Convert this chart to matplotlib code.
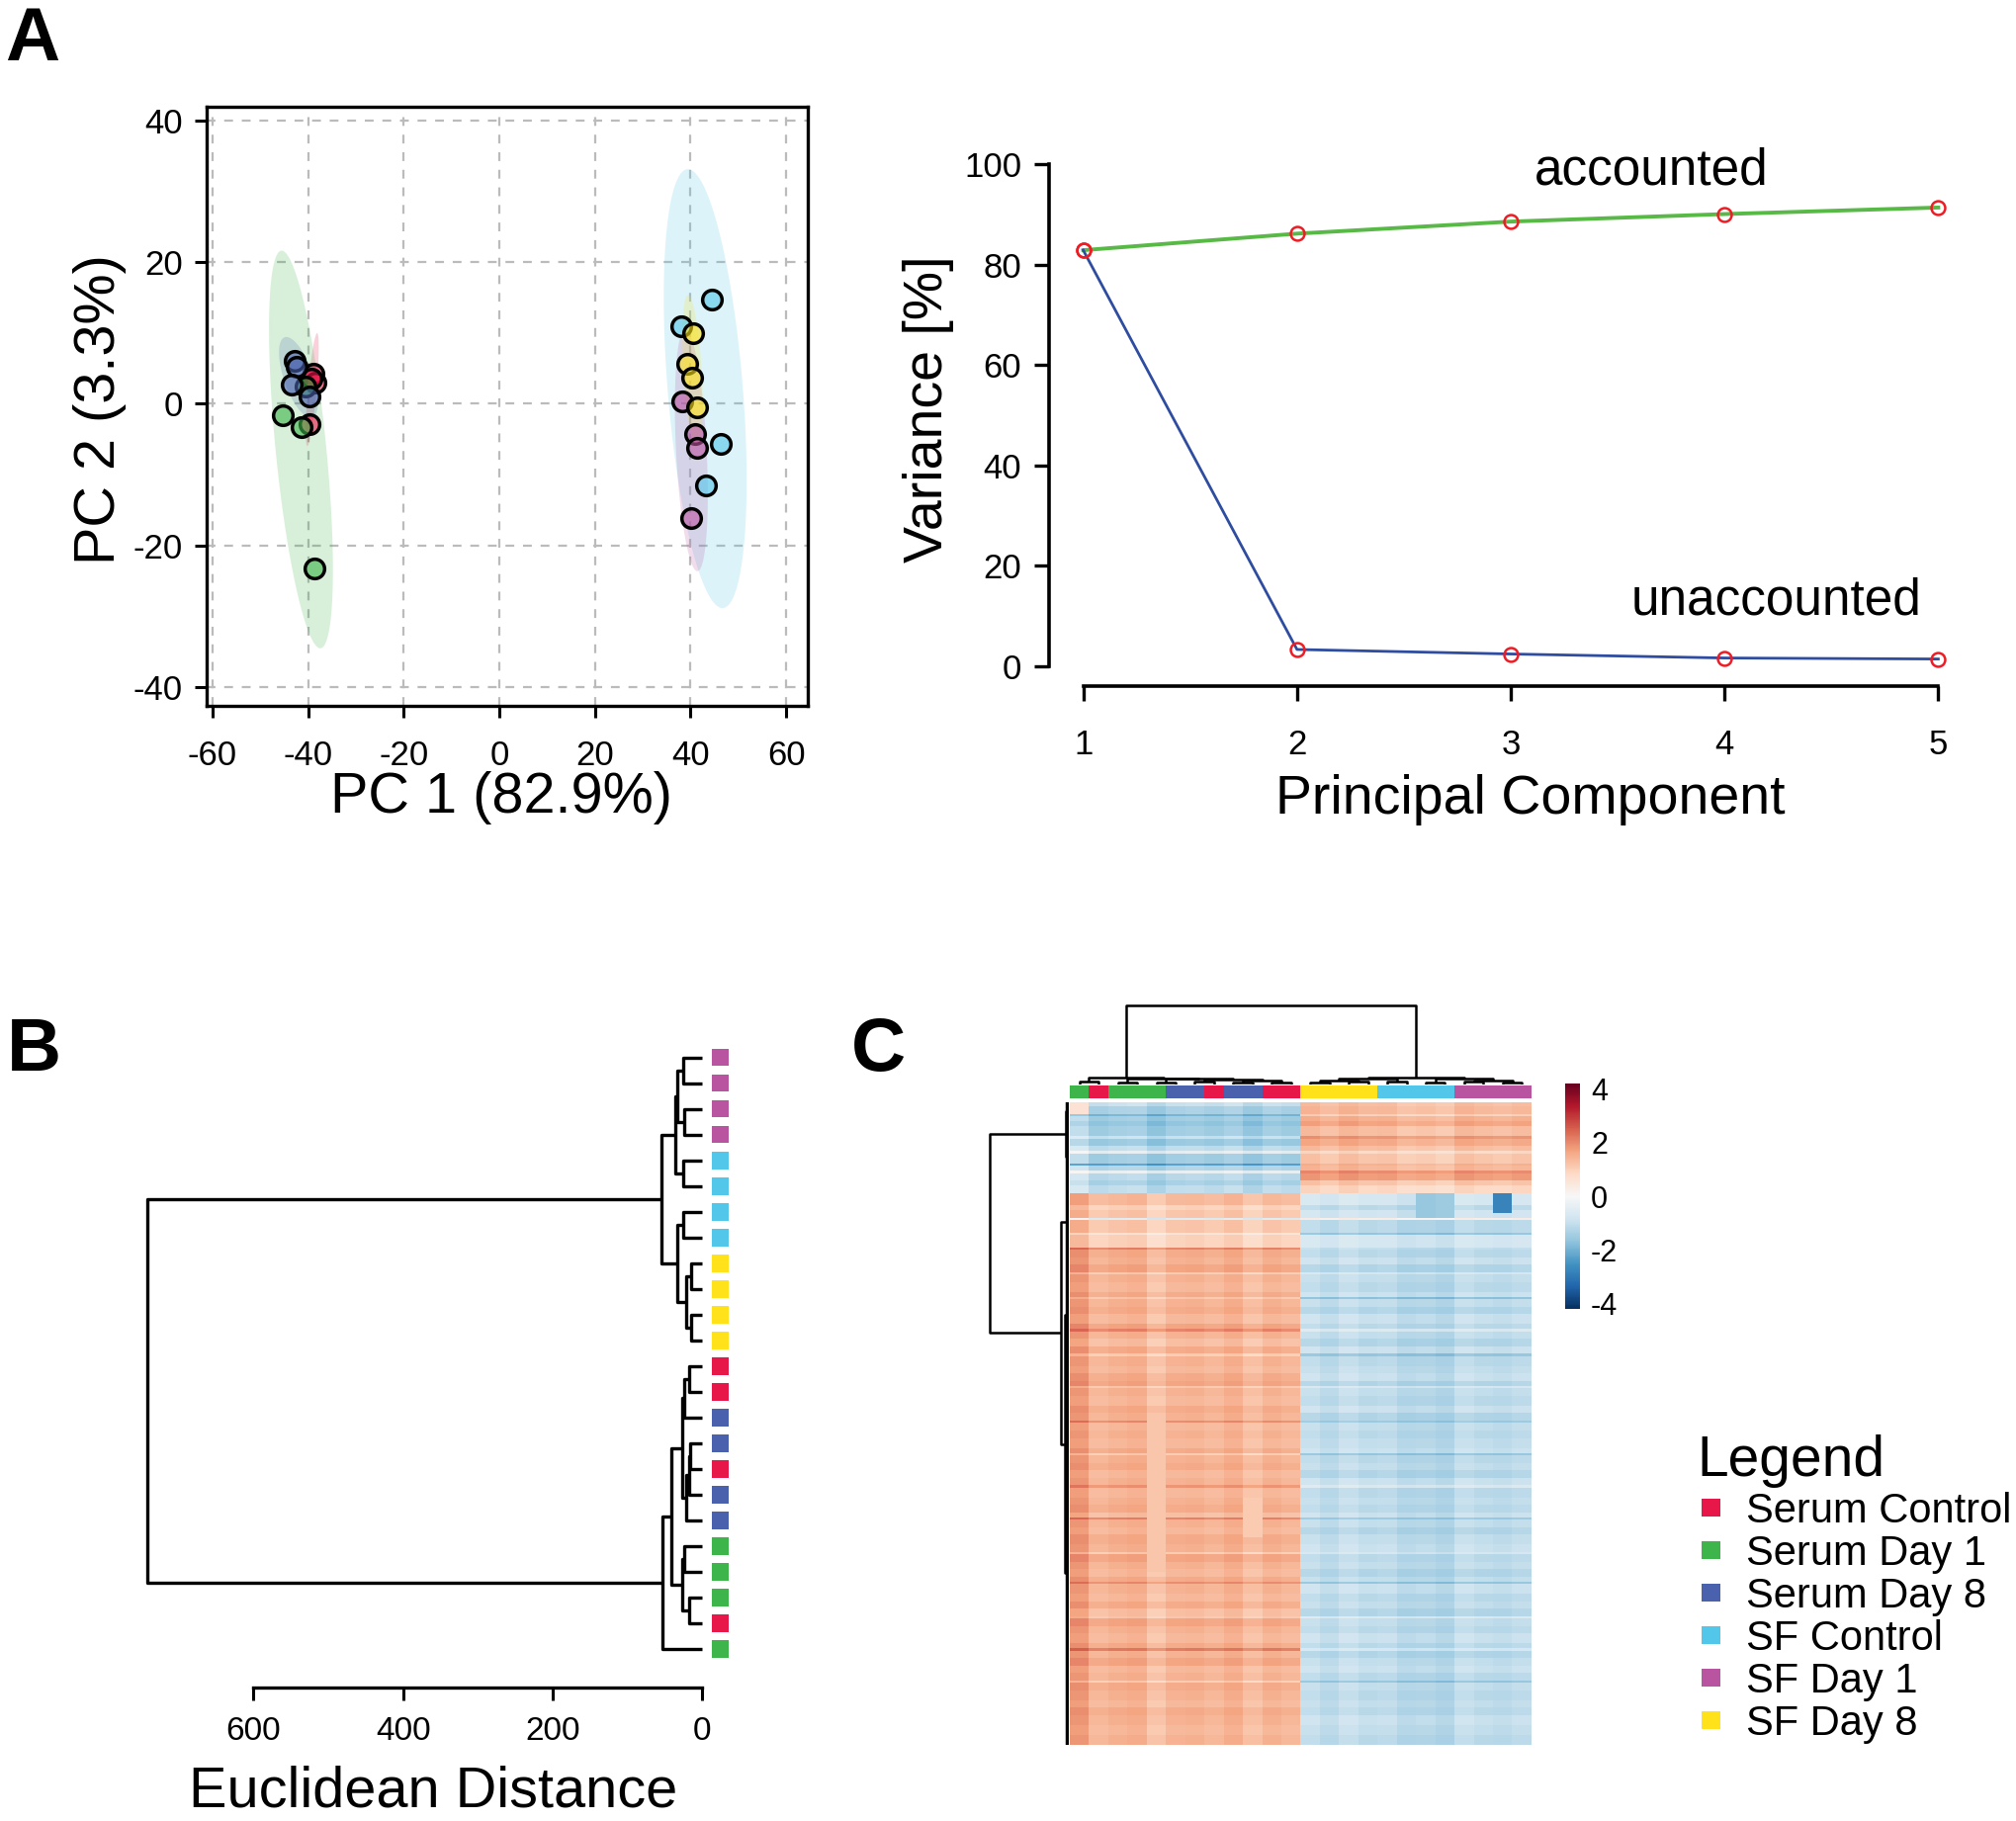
import numpy as np
import matplotlib
matplotlib.use('Agg')
import matplotlib.pyplot as plt
from matplotlib.colors import ListedColormap, to_rgba

plt.rcParams['font.family'] = ['Liberation Sans', 'DejaVu Sans']
plt.rcParams['axes.unicode_minus'] = False

W, H = 2040, 1842
DPI = 100
fig = plt.figure(figsize=(W / DPI, H / DPI), dpi=DPI)


def rect(x0, y0, x1, y1):
    return [x0 / W, 1 - y1 / H, (x1 - x0) / W, (y1 - y0) / H]


# ---------------- data ----------------
groups = ['Serum Control', 'Serum Day 1', 'Serum Day 8', 'SF Control', 'SF Day 1', 'SF Day 8']
group_colors = ['#E8174A', '#3DB54A', '#4A62AE', '#52C7EA', '#B954A0', '#FFE21A']

# PCA scores
pca_group = (['Serum Control'] * 4 + ['Serum Day 1'] * 4 + ['Serum Day 8'] * 4 +
             ['SF Control'] * 4 + ['SF Day 1'] * 4 + ['SF Day 8'] * 4)
pca_pc1 = [-38.9, -38.5, -39.8, -39.3,
           -45.2, -41.4, -38.7, -40.6,
           -42.7, -42.3, -43.4, -39.6,
           44.4, 38.1, 46.4, 43.3,
           38.2, 40.9, 41.4, 40.1,
           40.6, 39.3, 40.3, 41.4]
pca_pc2 = [4.3, 3.0, -2.8, 3.6,
           -1.6, -3.3, -23.3, 2.4,
           6.1, 5.2, 2.7, 1.0,
           14.7, 11.0, -5.6, -11.5,
           0.35, -4.2, -6.2, -16.2,
           10.0, 5.6, 3.7, -0.5]

# Scree
pc_index = [1, 2, 3, 4, 5]
var_accounted = [82.9, 86.2, 88.6, 90.1, 91.4]
var_unaccounted = [82.9, 3.3, 2.4, 1.6, 1.4]

# Sample dendrogram (panel B), leaves top -> bottom
dend_leaf_groups = (['SF Day 1'] * 4 + ['SF Control'] * 4 + ['SF Day 8'] * 4 +
                    ['Serum Control', 'Serum Control', 'Serum Day 8', 'Serum Day 8',
                     'Serum Control', 'Serum Day 8', 'Serum Day 8', 'Serum Day 1',
                     'Serum Day 1', 'Serum Day 1', 'Serum Control', 'Serum Day 1'])
dend_left = [0, 2, 24, 4, 26, 6, 8, 10, 30, 29, 28, 12, 35, 15, 37, 38, 36, 19, 21, 41, 40, 44, 34]
dend_right = [1, 3, 25, 5, 27, 7, 9, 11, 31, 32, 33, 13, 14, 16, 17, 18, 39, 20, 22, 42, 43, 23, 45]
dend_height = [25, 24, 33, 25, 36, 25, 15.5, 15.5, 21, 33, 54.4, 17, 24, 16, 18, 21, 26.6,
               24, 17, 26.6, 41.6, 52.7, 742]

# Heatmap (panel C)
hm_col_groups = ['Serum Day 1', 'Serum Control', 'Serum Day 1', 'Serum Day 1', 'Serum Day 1',
                 'Serum Day 8', 'Serum Day 8', 'Serum Control', 'Serum Day 8', 'Serum Day 8',
                 'Serum Control', 'Serum Control',
                 'SF Day 8', 'SF Day 8', 'SF Day 8', 'SF Day 8',
                 'SF Control', 'SF Control', 'SF Control', 'SF Control',
                 'SF Day 1', 'SF Day 1', 'SF Day 1', 'SF Day 1']
hm_band_rows = [2, 3, 1, 2, 2, 4, 1, 3, 2, 1, 4, 1, 2, 1, 3, 2, 3,
                5, 2, 3, 1, 5, 1, 5,
                1, 3, 3, 3, 1, 3, 4, 2, 1, 3,
                3, 4, 2, 1, 3, 3, 3, 1, 4, 3,
                3, 2, 1, 3, 4, 3, 3, 1, 3, 3,
                4, 2, 1, 3, 3, 3, 3, 1, 4, 3,
                3, 2, 1, 3, 3, 4, 3, 1, 3, 3,
                3, 2, 1, 4, 3, 3, 3, 1, 3, 3,
                4, 2, 1, 3, 3, 3, 3, 1, 3, 4,
                3, 3, 4, 4, 4]
hm_band_serum = [-1.0, -1.4, -2.0, -1.5, -1.7, -1.5, -1.0, -1.6, -1.1, -0.5, -1.5, -2.3, -1.3,
                 -0.4, -1.2, -1.4, -1.1,
                 1.3, 0.9, 1.1, -0.6, 1.1, 0.5, 0.9,
                 2.0, 1.5, 1.4, 1.6, 1.0, 1.4, 1.3, 1.5, 1.1, 1.4,
                 1.5, 1.3, 1.6, 2.0, 1.4, 1.2, 1.5, 1.0, 1.4, 1.3,
                 1.5, 1.6, 1.1, 1.4, 1.3, 1.5, 1.4, 1.9, 1.3, 1.4,
                 1.3, 1.5, 1.0, 1.4, 1.5, 1.3, 1.4, 1.8, 1.3, 1.4,
                 1.5, 1.2, 2.0, 1.4, 1.3, 1.5, 1.4, 1.0, 1.6, 1.4,
                 1.3, 1.5, 1.9, 1.4, 1.3, 1.5, 1.2, 1.1, 1.6, 1.4,
                 1.3, 1.5, 2.1, 1.4, 1.6, 1.3, 1.4, 1.0, 1.5, 1.4,
                 1.3, 1.5, 1.4, 1.3, 1.4]
hm_band_sf = [1.3, 1.4, 1.0, 1.5, 1.7, 1.3, 1.9, 1.6, 1.3, 0.9, 1.2, 1.5, 1.4, 2.0, 1.8, 1.2, 0.9,
              -0.7, -1.1, -0.8, 0.3, -1.1, -1.6, -0.7,
              -1.0, -1.1, -0.9, -1.2, -0.7, -1.0, -1.1, -0.9, -1.7, -1.0,
              -1.2, -0.9, -1.1, -0.6, -1.0, -1.2, -0.9, -1.6, -1.1, -1.0,
              -0.9, -1.2, -0.7, -1.0, -1.1, -0.9, -1.2, -1.5, -1.0, -1.1,
              -1.0, -0.9, -1.6, -1.1, -1.0, -1.2, -0.9, -0.6, -1.1, -1.0,
              -1.1, -0.9, -1.5, -1.0, -1.2, -1.0, -0.9, -0.7, -1.1, -1.0,
              -1.2, -1.0, -1.6, -0.9, -1.1, -1.0, -1.2, -0.6, -1.0, -1.1,
              -0.9, -1.1, -0.7, -1.2, -1.0, -0.9, -1.1, -1.6, -1.0, -1.1,
              -1.0, -1.1, -0.9, -1.0, -1.1]
hm_col_offset = [0.45, 0.0, 0.1, 0.15, -0.2, 0.05, 0.1, 0.0, 0.15, -0.15, 0.1, 0.0,
                 0.05, -0.1, 0.1, -0.05, 0.0, -0.2, -0.15, -0.25, 0.05, -0.05, -0.1, 0.0]
hm_patch_row0 = [37, 37, 37, 126, 160, 25, 0]
hm_patch_row1 = [45, 47, 47, 190, 176, 26, 5]
hm_patch_col = [22, 18, 19, 4, 9, 0, 0]
hm_patch_val = [-2.8, -1.6, -1.5, 1.15, 1.1, -2.2, 0.6]

# column dendrogram of heatmap
col_left = [0, 2, 4, 6, 8, 10, 28, 27, 26, 25, 24, 12, 14, 35, 16, 37, 18, 20, 22, 41, 40, 39, 34]
col_right = [1, 3, 5, 7, 9, 11, 29, 30, 31, 32, 33, 13, 15, 36, 17, 38, 19, 21, 23, 42, 43, 44, 45]
col_height = [3, 2.5, 2.5, 3, 2, 2.5, 4, 5, 6, 6.5, 7.5, 2.5, 3, 4.5, 3, 6, 2.5, 3, 2.5, 4.5, 6,
              7.5, 80]

# row dendrogram of heatmap (row blocks as leaves)
row_block_start = [0, 7, 37, 60, 112, 195]
row_block_end = [6, 36, 59, 111, 194, 259]
row_block_height = [1.5, 1.5, 1.5, 1.5, 1.5, 1.5]
row_left = [0, 4, 3, 2, 6]
row_right = [1, 5, 7, 8, 9]
row_height = [3, 2.5, 4.5, 8, 80]

gcol = dict(zip(groups, group_colors))


def dendro_segments(leaf_pos, leaf_h, left, right, heights):
    pos = list(leaf_pos)
    hh = list(leaf_h)
    segs = []
    for a, b, h in zip(left, right, heights):
        segs.append(([hh[a], h, h, hh[b]], [pos[a], pos[a], pos[b], pos[b]]))
        pos.append((pos[a] + pos[b]) / 2.0)
        hh.append(h)
    return segs


# ---------------- Panel A: PCA scatter ----------------
ax = fig.add_axes(rect(209, 108, 817, 714))
pc1 = np.array(pca_pc1)
pc2 = np.array(pca_pc2)
grp = np.array(pca_group)
t = np.linspace(0, 2 * np.pi, 200)
for g in groups:
    m = grp == g
    pts = np.column_stack([pc1[m], pc2[m]])
    mu = pts.mean(axis=0)
    cov = np.cov(pts.T)
    L = np.linalg.cholesky(cov)
    circ = np.vstack([np.cos(t), np.sin(t)]) * np.sqrt(5.991)
    ell = (L @ circ).T + mu
    ax.fill(ell[:, 0], ell[:, 1], color=gcol[g], alpha=0.2, lw=0, zorder=1)
for g in groups:
    m = grp == g
    ax.scatter(pc1[m], pc2[m], s=200, facecolors=[to_rgba(gcol[g], 0.6)],
               edgecolors='black', linewidths=2.5, zorder=3)
ax.set_xlim(-61.2, 64.5)
ax.set_ylim(-42.7, 42.0)
ax.set_xticks(range(-60, 61, 20))
ax.set_yticks(range(-40, 41, 20))
ax.grid(True, color='#BBBBBB', ls=(0, (4, 4)), lw=1.6)
ax.set_axisbelow(True)
for s in ax.spines.values():
    s.set_linewidth(2.4)
ax.tick_params(direction='out', length=8.6, width=2.2, labelsize=25)
ax.tick_params(axis='x', pad=16)
ax.tick_params(axis='y', pad=9)

# ---------------- Panel A: scree ----------------
ax2 = fig.add_axes(rect(1061, 146, 1995, 694))
ax2.plot(pc_index, var_accounted, color='#58B947', lw=2.8, zorder=2)
ax2.plot(pc_index, var_unaccounted, color='#2E4CA0', lw=2.0, zorder=2)
ax2.plot(pc_index, var_accounted, 'o', ms=10, mfc='none', mec='#EE1C24', mew=1.8, zorder=3)
ax2.plot(pc_index, var_unaccounted, 'o', ms=10, mfc='none', mec='#EE1C24', mew=1.8, zorder=3)
ax2.set_xlim(0.84, 5.16)
ax2.set_ylim(-4, 104)
ax2.set_xticks(pc_index)
ax2.set_yticks(range(0, 101, 20))
ax2.spines['top'].set_visible(False)
ax2.spines['right'].set_visible(False)
ax2.spines['left'].set_bounds(0, 100)
ax2.spines['bottom'].set_bounds(1, 5)
for s in ('left', 'bottom'):
    ax2.spines[s].set_linewidth(2.6)
ax2.tick_params(direction='out', length=11, width=2.4, labelsize=25)
ax2.tick_params(axis='x', pad=20)
ax2.tick_params(axis='y', pad=9)
ax2.text(3.66, 98.7, 'accounted', fontsize=37, ha='center', va='center')
ax2.text(4.24, 13.0, 'unaccounted', fontsize=37, ha='center', va='center')

# ---------------- Panel B: sample dendrogram ----------------
axb = fig.add_axes(rect(135.2, 1051.3, 740.6, 1686.2))
nl = len(dend_leaf_groups)
for xs, ys in dendro_segments(list(range(nl)), [0] * nl, dend_left, dend_right, dend_height):
    axb.plot(xs, ys, color='black', lw=2.4, solid_capstyle='butt')
axb.scatter([-24] * nl, list(range(nl)), marker='s', s=165,
            c=[gcol[g] for g in dend_leaf_groups], linewidths=0, zorder=3)
axb.set_xlim(760, -40)
axb.set_ylim(nl - 0.3, -0.7)
for s in ('top', 'right', 'left'):
    axb.spines[s].set_visible(False)
axb.spines['bottom'].set_position(('outward', 15))
axb.spines['bottom'].set_bounds(0, 600)
axb.spines['bottom'].set_linewidth(2.4)
axb.set_yticks([])
axb.set_xticks([600, 400, 200, 0])
axb.tick_params(axis='x', direction='out', length=9, width=2.2, labelsize=24, pad=12)

# ---------------- Panel C: heatmap ----------------
nrows = int(np.sum(hm_band_rows))
ncols = len(hm_col_groups)
mat = np.zeros((nrows, ncols))
r = 0
for h, vs, vf in zip(hm_band_rows, hm_band_serum, hm_band_sf):
    mat[r:r + h, :12] = vs
    mat[r:r + h, 12:] = vf
    r += h
mat = mat + np.array(hm_col_offset)[None, :]
for r0, r1, c, v in zip(hm_patch_row0, hm_patch_row1, hm_patch_col, hm_patch_val):
    mat[r0:r1, c] = v

axh = fig.add_axes(rect(1082, 1115, 1549, 1765))
im = axh.imshow(mat, aspect='auto', cmap='RdBu_r', vmin=-4.2, vmax=4.2, interpolation='nearest')
axh.set_xticks([])
axh.set_yticks([])
for s in axh.spines.values():
    s.set_visible(False)

# column colour bar
axcb = fig.add_axes(rect(1082, 1098, 1549, 1111))
gidx = np.array([[groups.index(g) for g in hm_col_groups]])
axcb.imshow(gidx, aspect='auto', cmap=ListedColormap(group_colors), vmin=-0.5, vmax=5.5,
            interpolation='nearest')
axcb.axis('off')

# column dendrogram
axcd = fig.add_axes(rect(1082, 1010, 1549, 1097))
for xs, ys in dendro_segments(list(range(ncols)), [0] * ncols, col_left, col_right, col_height):
    axcd.plot(ys, xs, color='black', lw=1.8, solid_capstyle='butt')
axcd.set_xlim(-0.5, ncols - 0.5)
axcd.set_ylim(0, 87)
axcd.axis('off')

# row dendrogram
axrd = fig.add_axes(rect(995, 1115, 1081, 1765))
bpos = [(a + b) / 2.0 for a, b in zip(row_block_start, row_block_end)]
for a, b, h in zip(row_block_start, row_block_end, row_block_height):
    axrd.plot([h, h], [a - 0.5, b + 0.5], color='black', lw=3.2, solid_capstyle='butt')
for xs, ys in dendro_segments(bpos, row_block_height, row_left, row_right, row_height):
    axrd.plot(xs, ys, color='black', lw=1.8, solid_capstyle='butt')
axrd.set_xlim(86, 0)
axrd.set_ylim(nrows - 0.5, -0.5)
axrd.axis('off')

# colour scale bar
axk = fig.add_axes(rect(1583, 1096, 1598, 1324))
cb = fig.colorbar(im, cax=axk)
cb.outline.set_visible(False)
cb.set_ticks([-4, -2, 0, 2, 4])
cb.set_ticklabels(['-4', '-2', '0', '2', '4'])
axk.tick_params(length=0, labelsize=22, pad=8)

# ---------------- overlay for texts & legend ----------------
ov = fig.add_axes([0, 0, 1, 1], facecolor='none')
ov.set_xlim(0, W)
ov.set_ylim(H, 0)
ov.axis('off')

for s, x, yb in [('A', 5, 61), ('B', 7, 1083), ('C', 861, 1083)]:
    ov.text(x, yb, s, fontsize=55, fontweight='bold', ha='left', va='baseline')

ov.text(507, 807, 'PC 1 (82.9%)', fontsize=41.5, ha='center', va='center')
ov.text(101, 414, 'PC 2 (3.3%)', fontsize=41.5, ha='center', va='center', rotation=90)
ov.text(939, 414, 'Variance [%]', fontsize=40, ha='center', va='center', rotation=90)
ov.text(1548, 809, 'Principal Component', fontsize=40, ha='center', va='center')
ov.text(438, 1812, 'Euclidean Distance', fontsize=41.5, ha='center', va='center')

# legend
ov.text(1716, 1493, 'Legend', fontsize=41, ha='left', va='baseline')
leg_y = [1525, 1568, 1611, 1654, 1697, 1740]
ov.scatter([1730.5] * 6, leg_y, marker='s', s=180, c=group_colors, linewidths=0)
for g, y in zip(groups, leg_y):
    ov.text(1766, y + 15, g, fontsize=30, ha='left', va='baseline')

fig.savefig('out.png', dpi=DPI)
